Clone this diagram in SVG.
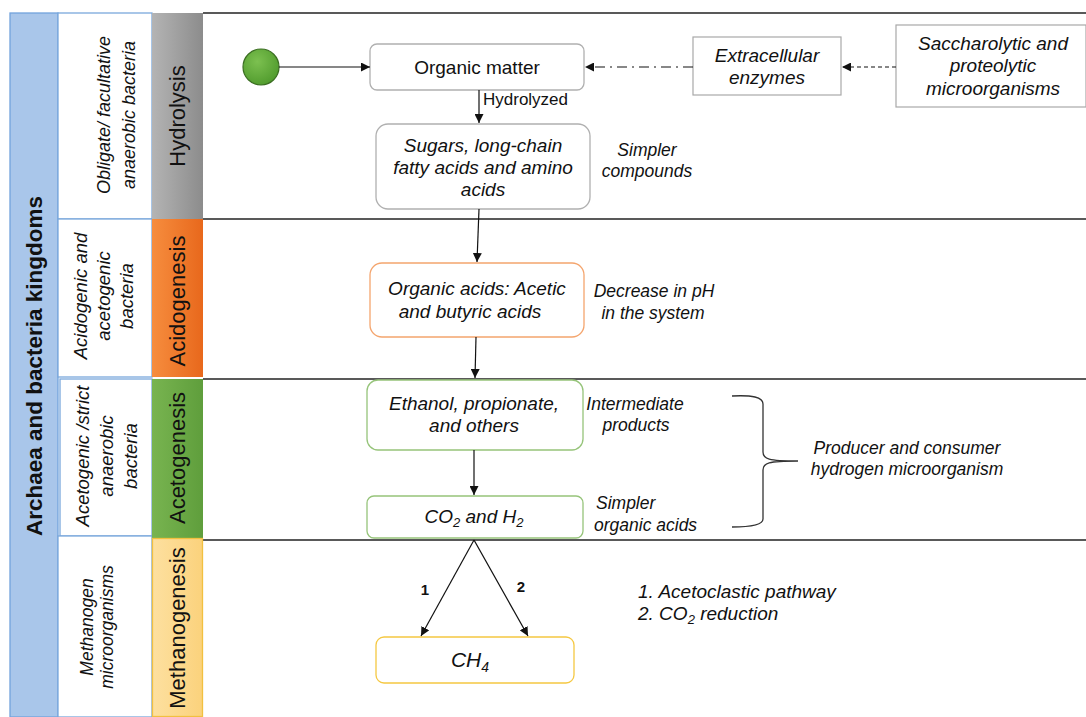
<svg xmlns="http://www.w3.org/2000/svg" width="1086" height="717" viewBox="0 0 1086 717">
<defs>
<marker id="ah" viewBox="0 0 10 10" refX="10" refY="5" markerWidth="9" markerHeight="9" markerUnits="userSpaceOnUse" orient="auto"><path d="M0,0 L10,5 L0,10 z" fill="#111"/></marker>
<linearGradient id="gGrey" x1="0" x2="1" y1="0" y2="0"><stop offset="0" stop-color="#b4b4b4"/><stop offset="1" stop-color="#8c8c8c"/></linearGradient>
<linearGradient id="gOrange" x1="0" x2="1" y1="0" y2="0"><stop offset="0" stop-color="#f68d3e"/><stop offset="1" stop-color="#e8681c"/></linearGradient>
<linearGradient id="gGreen" x1="0" x2="1" y1="0" y2="0"><stop offset="0" stop-color="#78b450"/><stop offset="1" stop-color="#5f9e3c"/></linearGradient>
<linearGradient id="gYellow" x1="0" x2="1" y1="0" y2="0"><stop offset="0" stop-color="#fde0a0"/><stop offset="1" stop-color="#fbd27c"/></linearGradient>
<radialGradient id="gCircle" cx="0.4" cy="0.35" r="0.7"><stop offset="0" stop-color="#7cc050"/><stop offset="1" stop-color="#4f9a2c"/></radialGradient>
</defs>
<style>
text{font-family:"Liberation Sans",Arial,sans-serif;fill:#111}
.it{font-style:italic}
.box{fill:#fff;stroke:#b0b0b0;stroke-width:1.3}
.sep{stroke:#222;stroke-width:1.3}
.col2{fill:#fff;stroke:#7aa8dc;stroke-width:1.3}
.conn{stroke:#111;stroke-width:1.2;fill:none}
.stage{font-size:22px}
.lbl{font-size:19px}
.sm{font-size:17.5px}
</style>
<rect width="1086" height="717" fill="#fff"/>

<g id="lanes">
<line class="sep" x1="203" y1="13" x2="1086" y2="13"/>
<line class="sep" x1="203" y1="219" x2="1086" y2="219" stroke="#555"/>
<line class="sep" x1="203" y1="379" x2="1086" y2="379"/>
<line class="sep" x1="203" y1="540" x2="1086" y2="540"/>
</g>

<g id="kingdoms">
<rect x="10" y="13" width="48" height="704" fill="#a9c6ea" stroke="#72a3dc" stroke-width="1.3"/>
<text font-size="22.5" font-weight="bold" text-anchor="middle" transform="translate(42 366) rotate(-90)">Archaea and bacteria kingdoms</text>
</g>

<g id="col-hydro">
<rect class="col2" x="58" y="13" width="94" height="206"/>
<text class="it" font-size="18" text-anchor="middle" transform="translate(110 115) rotate(-90)"><tspan x="0" y="0">Obligate/ facultative</tspan><tspan x="0" y="25">anaerobic bacteria</tspan></text>
</g>
<g id="col-acido">
<rect class="col2" x="58" y="219" width="94" height="158"/>
<text class="it" font-size="18.5" text-anchor="middle" transform="translate(87 296) rotate(-90)"><tspan x="0" y="0">Acidogenic and</tspan><tspan x="0" y="23">acetogenic</tspan><tspan x="0" y="46">bacteria</tspan></text>
</g>
<g id="col-aceto">
<rect class="col2" x="60" y="379" width="92" height="157"/>
<text class="it" font-size="18.5" text-anchor="middle" transform="translate(89 456) rotate(-90)"><tspan x="0" y="0">Acetogenic /strict</tspan><tspan x="0" y="24">anaerobic</tspan><tspan x="0" y="48">bacteria</tspan></text>
</g>
<g id="col-metha">
<rect class="col2" x="58" y="536" width="94" height="181"/>
<text class="it" font-size="17.5" text-anchor="middle" transform="translate(93 627) rotate(-90)"><tspan x="0" y="0">Methanogen</tspan><tspan x="0" y="20">microorganisms</tspan></text>
</g>

<g id="stage-hydrolysis">
<rect x="152" y="13" width="51" height="206" fill="url(#gGrey)"/>
<text class="stage" text-anchor="middle" transform="translate(185 116) rotate(-90)">Hydrolysis</text>
</g>
<g id="stage-acidogenesis">
<rect x="152" y="219" width="51" height="158" fill="url(#gOrange)"/>
<text class="stage" text-anchor="middle" transform="translate(185 301) rotate(-90)">Acidogenesis</text>
</g>
<g id="stage-acetogenesis">
<rect x="152" y="379" width="51" height="159" fill="url(#gGreen)"/>
<text class="stage" text-anchor="middle" transform="translate(185 458) rotate(-90)">Acetogenesis</text>
</g>
<g id="stage-methanogenesis">
<rect x="152.5" y="538.5" width="50" height="178" fill="url(#gYellow)" stroke="#f2c040" stroke-width="1.3"/>
<text class="stage" text-anchor="middle" transform="translate(185 628) rotate(-90)">Methanogenesis</text>
</g>

<g id="start">
<circle cx="261" cy="67" r="18" fill="url(#gCircle)" stroke="#3b6e22" stroke-width="1.2"/>
</g>
<g id="organic-matter">
<rect class="box" x="370" y="44" width="214" height="46" rx="7"/>
<text class="lbl" x="477" y="74" text-anchor="middle">Organic matter</text>
</g>
<g id="extracellular">
<rect x="693" y="37" width="148" height="58" fill="#fff" stroke="#a8a8a8" stroke-width="1.2"/>
<text class="lbl it" text-anchor="middle"><tspan x="767" y="62">Extracellular</tspan><tspan x="767" y="84">enzymes</tspan></text>
</g>
<g id="saccharolytic">
<rect x="896" y="25" width="190" height="82" fill="#fff" stroke="#a8a8a8" stroke-width="1.2"/>
<text class="lbl it" text-anchor="middle"><tspan x="993" y="50">Saccharolytic and</tspan><tspan x="993" y="72">proteolytic</tspan><tspan x="993" y="95">microorganisms</tspan></text>
</g>
<g id="sugars">
<rect class="box" x="376" y="124" width="214" height="85" rx="12"/>
<text class="lbl it" text-anchor="middle"><tspan x="483" y="152">Sugars, long-chain</tspan><tspan x="483" y="174">fatty acids and amino</tspan><tspan x="483" y="196">acids</tspan></text>
</g>
<g id="note-simpler">
<text class="sm it" text-anchor="middle"><tspan x="647" y="156">Simpler</tspan><tspan x="647" y="177">compounds</tspan></text>
</g>
<g id="organic-acids">
<rect x="370" y="263" width="214" height="74" rx="12" fill="#fff" stroke="#f4a56e" stroke-width="1.3"/>
<text class="lbl it" text-anchor="middle"><tspan x="477" y="295">Organic acids: Acetic</tspan><tspan x="470" y="318">and butyric acids</tspan></text>
</g>
<g id="note-ph">
<text class="sm it" text-anchor="middle"><tspan x="654" y="297">Decrease in pH</tspan><tspan x="653" y="319">in the system</tspan></text>
</g>
<g id="ethanol">
<rect x="367" y="380" width="216" height="70" rx="11" fill="#fff" stroke="#96c47a" stroke-width="1.3"/>
<text class="lbl it" text-anchor="middle"><tspan x="474" y="410">Ethanol, propionate,</tspan><tspan x="474" y="432">and others</tspan></text>
</g>
<g id="note-intermediate">
<text class="sm it" text-anchor="middle"><tspan x="635" y="410">Intermediate</tspan><tspan x="636" y="431">products</tspan></text>
</g>
<g id="co2h2">
<rect x="367" y="496" width="216" height="42" rx="7" fill="#fff" stroke="#96c47a" stroke-width="1.3"/>
<text class="lbl it" x="474" y="523" text-anchor="middle">CO<tspan font-size="13" dy="4">2</tspan><tspan dy="-4"> and H</tspan><tspan font-size="13" dy="4">2</tspan></text>
</g>
<g id="note-simpler-acids">
<text class="sm it"><tspan x="596" y="509">Simpler</tspan><tspan x="594" y="531">organic acids</tspan></text>
</g>
<g id="brace">
<path d="M732,396 C752,395 763,397 763,404 L763,452 C763,459 768,461 798,461 C768,461 763,463 763,470 L763,519 C763,525 752,527 732,527" fill="none" stroke="#333" stroke-width="1.3"/>
<text class="sm it" text-anchor="middle"><tspan x="907" y="454">Producer and consumer</tspan><tspan x="907" y="475">hydrogen microorganism</tspan></text>
</g>
<g id="ch4">
<rect x="376" y="637" width="198" height="46" rx="8" fill="#fff" stroke="#f5c842" stroke-width="1.3"/>
<text class="it" font-size="21" x="470" y="667" text-anchor="middle">CH<tspan font-size="14" dy="5">4</tspan></text>
</g>
<g id="legend">
<text class="lbl it"><tspan x="638" y="598">1. Acetoclastic pathway</tspan><tspan x="638" y="620">2. CO<tspan font-size="13" dy="4">2</tspan><tspan dy="-4"> reduction</tspan></tspan></text>
</g>

<g id="connectors">
<line class="conn" x1="279" y1="67" x2="370" y2="67" marker-end="url(#ah)"/>
<line class="conn" x1="693" y1="67" x2="585" y2="67" stroke-dasharray="10,5,2,5" stroke-width="1.6" marker-end="url(#ah)"/>
<line class="conn" x1="896" y1="67" x2="842" y2="67" stroke-dasharray="4,3" marker-end="url(#ah)"/>
<line class="conn" x1="479" y1="90" x2="479" y2="123" marker-end="url(#ah)"/>
<text font-size="17" x="483" y="105">Hydrolyzed</text>
<line class="conn" x1="479" y1="209" x2="477" y2="262" marker-end="url(#ah)"/>
<line class="conn" x1="476" y1="337" x2="475" y2="378" marker-end="url(#ah)"/>
<line class="conn" x1="474" y1="450" x2="474" y2="495" marker-end="url(#ah)"/>
<line class="conn" x1="474" y1="540" x2="421" y2="636" marker-end="url(#ah)"/>
<line class="conn" x1="474" y1="540" x2="528" y2="636" marker-end="url(#ah)"/>
<text x="425" y="595" font-size="15" font-weight="bold" text-anchor="middle">1</text>
<text x="521" y="592" font-size="15" font-weight="bold" text-anchor="middle">2</text>
</g>
</svg>
